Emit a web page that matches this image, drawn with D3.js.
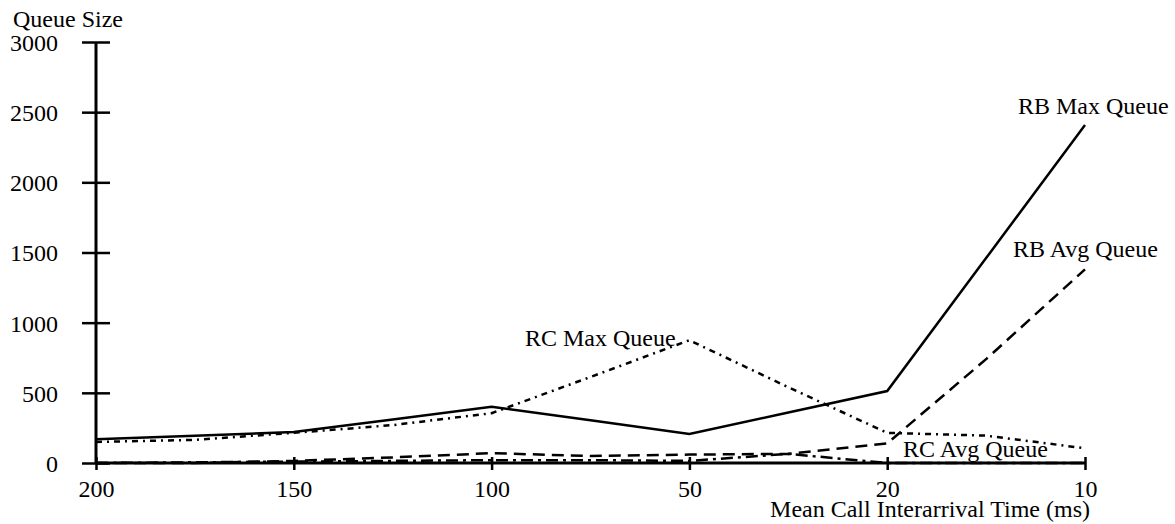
<!DOCTYPE html>
<html>
<head>
<meta charset="utf-8">
<script src="https://cdn.jsdelivr.net/npm/d3@7"></script>
<style>
  html, body { margin: 0; padding: 0; background: #fff; }
  svg { display: block; }
  text { font-family: "Liberation Serif", "Times New Roman", serif; fill: #000; }
</style>
</head>
<body>
<div id="chart"></div>
<script>
// Queue size vs. mean call interarrival time

// -------------------------------------------------------------------------
// Data
// -------------------------------------------------------------------------
const categories = ["200", "150", "100", "50", "20", "10"];
const yTicks = [0, 500, 1000, 1500, 2000, 2500, 3000];

// sample positions along the category axis (index, halves are between ticks)
const samplePos = [0, 0.5, 1, 1.5, 2, 2.5, 3, 3.5, 4, 4.5, 5];

const rbMax = [170, 195, 221, 310, 400, 305, 207, 360, 513, 1460, 2408];
const rbAvg = [0, 0, 15, 40, 70, 50, 60, 65, 140, 740, 1380];
const rcMax = [150, 165, 215, 270, 355, 613, 875, 540, 215, 195, 105];
const rcAvg = [0, 5, 10, 15, 20, 20, 15, 65, 0, 0, 0];

const series = [
  { name: "RB Max Queue", values: rbMax, dash: null },
  { name: "RB Avg Queue", values: rbAvg, dash: "12,7" },
  { name: "RC Max Queue", values: rcMax, dash: "6,5,2,5" },
  { name: "RC Avg Queue", values: rcAvg, dash: "12,5,3,5" },
];

// -------------------------------------------------------------------------
// Layout
// -------------------------------------------------------------------------
const width = 1175, height = 524;

const svg = d3.select("#chart").append("svg")
  .attr("width", width).attr("height", height);

const x = d3.scaleLinear().domain([0, categories.length - 1]).range([96, 1085]);
const y = d3.scaleLinear().domain([0, 3000]).range([463, 42]);

// y axis, ticks cross the line
const yAxis = svg.append("g")
  .attr("transform", `translate(${x(0)},0)`)
  .call(d3.axisLeft(y).tickValues(yTicks).tickSize(14).tickFormat(d3.format("d")));
yAxis.select(".domain").remove();
yAxis.append("line")
  .attr("x1", 0).attr("x2", 0).attr("y1", y(0)).attr("y2", y(3000))
  .attr("stroke", "#000").attr("stroke-width", 3);
yAxis.selectAll(".tick line").attr("x1", 14).attr("stroke-width", 2.5);
yAxis.selectAll(".tick text")
  .attr("x", -38).attr("dy", "0.35em")
  .style("font-size", "24px").style("font-family", "'Liberation Serif', serif");

// x axis
const xAxis = svg.append("g")
  .attr("transform", `translate(0,${y(0)})`)
  .call(d3.axisBottom(x).tickValues(d3.range(categories.length)).tickSize(7)
    .tickFormat((i) => categories[i]));
xAxis.select(".domain").remove();
xAxis.append("line")
  .attr("x1", x(0)).attr("x2", x(categories.length - 1))
  .attr("stroke", "#000").attr("stroke-width", 3);
xAxis.selectAll(".tick line").attr("y1", -6).attr("stroke-width", 2.5);
xAxis.selectAll(".tick text")
  .attr("y", 34).attr("dy", 0)
  .style("font-size", "24px").style("font-family", "'Liberation Serif', serif");

// axis titles
svg.append("text").attr("x", 13).attr("y", 27)
  .style("font-size", "24px").text("Queue Size");
svg.append("text").attr("x", 1090).attr("y", 517).attr("text-anchor", "end")
  .style("font-size", "24px").text("Mean Call Interarrival Time (ms)");

// -------------------------------------------------------------------------
// Lines
// -------------------------------------------------------------------------
const line = d3.line().x((d) => x(d[0])).y((d) => y(d[1]));

svg.append("g").selectAll("path").data(series).join("path")
  .attr("d", (s) => line(samplePos.map((p, i) => [p, s.values[i]])))
  .attr("fill", "none").attr("stroke", "#000").attr("stroke-width", 2.5)
  .attr("stroke-dasharray", (s) => s.dash);

// series labels
const labels = [
  { text: "RB Max Queue", x: 1018, y: 114 },
  { text: "RB Avg Queue", x: 1013, y: 257 },
  { text: "RC Max Queue", x: 525, y: 346 },
  { text: "RC Avg Queue", x: 903, y: 457 },
];
svg.append("g").selectAll("text").data(labels).join("text")
  .attr("x", (d) => d.x).attr("y", (d) => d.y)
  .style("font-size", "24px").text((d) => d.text);
</script>
</body>
</html>
